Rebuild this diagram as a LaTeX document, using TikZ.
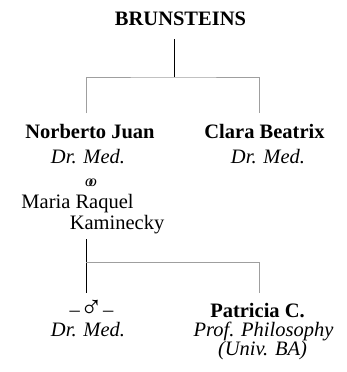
\documentclass[tikz,border=0pt]{standalone}
\usepackage{fontspec}
\setmainfont{Liberation Serif}
\begin{document}
\begin{tikzpicture}[x=1pt,y=-1pt,
  txt/.style={anchor=base,inner sep=0pt,font=\fontsize{20.5}{22}\selectfont},
  pname/.style={txt,font=\fontsize{20.5}{22}\selectfont\bfseries},
  prole/.style={txt,font=\fontsize{20.5}{22}\selectfont\itshape},
  stemline/.style={black,line width=0.8pt},
  branchline/.style={gray!75,line width=0.8pt}]
\useasboundingbox (0,0) rectangle (346,372);

% family head
\node[pname] (fam) at (180.5,25) {BRUNSTEINS};

% first generation
\node[pname] (nj) at (90,138) {Norberto Juan};
\node[prole] (njr) at (88,163) {Dr. Med.};
\node[txt,font=\fontsize{16}{17}\selectfont\itshape] (mar) at (91,186) {o\kern-4.2pt o};
\node[txt] (sp1) at (77.5,208) {Maria Raquel};
\node[txt] (sp2) at (117,229) {Kaminecky};
\node[pname] (cb) at (264.5,138) {Clara Beatrix};
\node[prole] (cbr) at (268,163) {Dr. Med.};

% second generation
\node[txt] (son) at (91.5,316.5) {--\smash{\raisebox{-1pt}{\scalebox{1.5}{♂}}}--};
\node[prole] (sonr) at (88,336) {Dr. Med.};
\node[pname] (pc) at (257.5,317) {Patricia C.};
\node[prole] (pcr) at (263.5,336) {Prof. Philosophy};
\node[prole] (pcu) at (262.5,355) {(Univ. BA)};

% connectors of the first generation
\coordinate (a0) at (174,39);
\coordinate (a1) at (174,77);
\coordinate (a2) at (86,113);
\coordinate (a3) at (259,113);
\draw[stemline] (a0) -- (a1);
\draw[branchline] (a2) |- (a1) -| (a3);

% connectors of the second generation
\coordinate (b0) at (86,239);
\coordinate (b1) at (86,262);
\coordinate (b2) at (86,293);
\coordinate (b3) at (259,293);
\draw[stemline] (b0) -- (b2);
\draw[branchline] (b1) -| (b3);
\end{tikzpicture}
\end{document}
